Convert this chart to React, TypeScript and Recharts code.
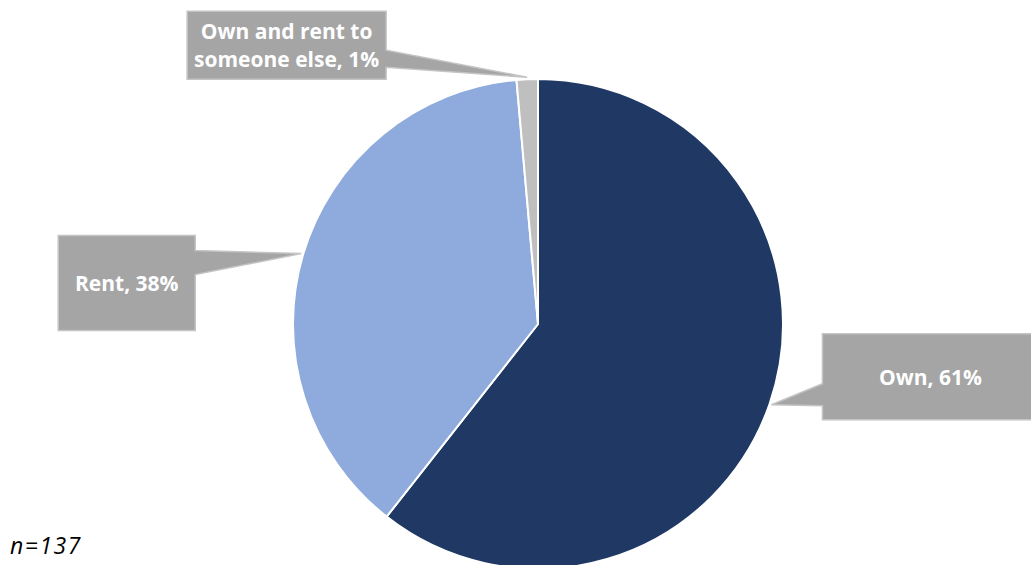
import { Cell, Pie, PieChart } from "recharts";

const categories = ["Own", "Rent", "Own and rent to someone else"];
// slice sizes as measured off the pie; labels carry the rounded figures
const shares = [60.6, 38.0, 1.4];
const labelLines = [["Own, 61%"], ["Rent, 38%"], ["Own and rent to", "someone else, 1%"]];

const colors = ["#203864", "#8FAADC", "#BFBFBF"];

// callout box placement relative to the tip on the slice edge
const callouts = [
  { dx: 51, dy: -71, w: 216, h: 86, side: "left", b0: 50, b1: 72 },
  { dx: -243, dy: -18, w: 137, h: 95, side: "right", b0: 15, b1: 39 },
  { dx: -340, dy: -66, w: 199, h: 68, side: "right", b0: 39, b1: 56 },
];

const data = categories.map((name, i) => ({
  name,
  value: shares[i],
}));

const RAD = Math.PI / 180;

function renderCallout(props: any) {
  const { cx, cy, midAngle, outerRadius, index } = props;
  const tx = cx + (outerRadius + 2) * Math.cos(-midAngle * RAD);
  const ty = cy + (outerRadius + 2) * Math.sin(-midAngle * RAD);
  const c = callouts[index];
  const x = tx + c.dx;
  const y = ty + c.dy;
  const r = x + c.w;
  const b = y + c.h;

  // box with a wedge pointing at the slice
  let d = "";
  if (c.side === "left") {
    d = `M${x},${y} L${r},${y} L${r},${b} L${x},${b} L${x},${y + c.b1} L${tx},${ty} L${x},${y + c.b0} Z`;
  } else {
    d = `M${x},${y} L${r},${y} L${r},${y + c.b0} L${tx},${ty} L${r},${y + c.b1} L${r},${b} L${x},${b} Z`;
  }

  const lines = labelLines[index];
  const lh = 28;
  const midY = y + c.h / 2;
  const firstY = midY - ((lines.length - 1) * lh) / 2;

  return (
    <g key={`callout-${index}`}>
      <path d={d} fill="#A5A5A5" stroke="#C4C4C4" strokeWidth={1.5} />
      {lines.map((t, k) => (
        <text
          key={k}
          x={x + c.w / 2}
          y={firstY + k * lh}
          textAnchor="middle"
          dominantBaseline="central"
          fill="#FFFFFF"
          fontFamily="'Open Sans', sans-serif"
          fontWeight={700}
          fontSize={21}
        >
          {t}
        </text>
      ))}
    </g>
  );
}

export default function App() {
  return (
    <div
      style={{
        position: "absolute",
        left: 0,
        top: 0,
        width: 1031,
        height: 565,
        background: "#FFFFFF",
        overflow: "hidden",
      }}
    >
      <PieChart
        width={1031}
        height={565}
        margin={{ top: 0, right: 0, bottom: 0, left: 0 }}
      >
        <Pie
          data={data}
          dataKey="value"
          nameKey="name"
          cx={538}
          cy={324}
          outerRadius={245}
          startAngle={90}
          endAngle={-270}
          stroke="#FFFFFF"
          strokeWidth={2}
          label={renderCallout}
          labelLine={false}
          isAnimationActive={false}
        >
          {data.map((d, i) => (
            <Cell key={d.name} fill={colors[i]} />
          ))}
        </Pie>
      </PieChart>

      <div
        style={{
          position: "absolute",
          left: 10,
          top: 529,
          fontFamily: "'Open Sans', sans-serif",
          fontStyle: "italic",
          fontSize: 23,
          letterSpacing: 1.5,
          color: "#000000",
          lineHeight: "32px",
        }}
      >
        n=137
      </div>
    </div>
  );
}
